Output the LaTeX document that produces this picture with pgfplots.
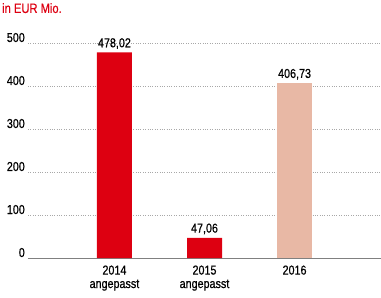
\documentclass[border=0pt]{standalone}
\usepackage{fontspec}
\setmainfont{Liberation Sans}[FakeStretch=0.83, FakeBold=0.6]
\usepackage{pgfplots}
\pgfplotsset{compat=1.18}
\definecolor{barred}{HTML}{DD0011}
\definecolor{barpink}{HTML}{E8B8A5}
\definecolor{gridgray}{HTML}{A8A8A8}
\begin{document}
\begin{tikzpicture}
\useasboundingbox (-28bp,-40bp) rectangle (353bp,258bp);
\begin{axis}[
  at={(0,0)}, anchor=south west,
  scale only axis,
  width=353bp, height=215bp,
  xmin=-0.96, xmax=2.96,
  ymin=0, ymax=500,
  axis x line*=bottom,
  axis y line*=left,
  x axis line style={draw=gray, line width=0.8pt, -},
  y axis line style={draw=none},
  ytick={0,100,200,300,400,500},
  ymajorgrids,
  grid style={gridgray, dotted, line width=0.6pt},
  yticklabel style={anchor=base east, inner sep=0pt, xshift=-3bp, yshift=1bp, font=\fontsize{13}{15}\selectfont},
  xtick={0,1,2},
  xticklabels={{2014\\angepasst},{2015\\angepasst},{2016}},
  xticklabel style={align=center, font=\fontsize{13}{13.5}\selectfont, yshift=-4bp},
  major tick length=0pt,
  clip=false,
  bar width=35bp,
  /pgf/number format/assume math mode=true,
]
\addplot[ybar, fill=barred, draw=none,
  nodes near coords={\pgfmathprintnumber[fixed, fixed zerofill, precision=2, use comma]{\pgfplotspointmeta}},
  every node near coord/.append style={font=\fontsize{13}{15}\selectfont, text=black, yshift=0bp}]
  coordinates {(0,478.02) (1,47.06)};
\addplot[ybar, fill=barpink, draw=none,
  nodes near coords={\pgfmathprintnumber[fixed, fixed zerofill, precision=2, use comma]{\pgfplotspointmeta}},
  every node near coord/.append style={font=\fontsize{13}{15}\selectfont, text=black, yshift=0bp}]
  coordinates {(2,406.73)};
\node[anchor=north west, inner sep=0pt, text=barred, font=\fontsize{13.5}{15}\selectfont] at (rel axis cs:0,1) [xshift=-26bp, yshift=40bp] {in EUR Mio.};
\end{axis}
\end{tikzpicture}
\end{document}
